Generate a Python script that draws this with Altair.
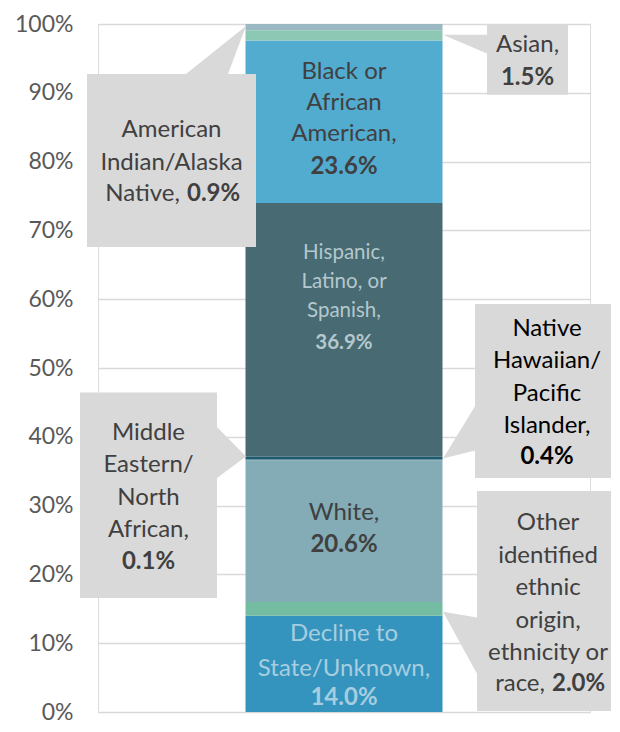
import altair as alt
import pandas as pd

# ---------------- data ----------------
categories = [
    "Decline to State/Unknown",
    "Other identified ethnic origin, ethnicity or race",
    "White",
    "Middle Eastern/North African",
    "Native Hawaiian/Pacific Islander",
    "Hispanic, Latino, or Spanish",
    "Black or African American",
    "Asian",
    "American Indian/Alaska Native",
]
values = [14.0, 2.0, 20.6, 0.1, 0.4, 36.9, 23.6, 1.5, 0.9]
colors = ["#3494bd", "#74bda3", "#83acb7", "#5f8f9c", "#1c5b72",
          "#476a73", "#52acd0", "#8dc8b4", "#9ab8c2"]
y_ticks = list(range(0, 101, 10))

FONT = "Lato"
DARK = "#404040"
BOX = "#d9d9d9"

# layout (plot area)
PW, PH = 492, 688
PAD = {"left": 90, "top": 16, "right": 21, "bottom": 12}
S = PH / 700.0


def X(px):  # reference page x -> plot x
    return px - 98


def Y(py):  # reference page y -> plot y
    return (py - 22) * S


df = pd.DataFrame({"category": categories, "value": values})
df["group"] = "All"
df["end"] = df["value"].cumsum()
df["start"] = df["end"] - df["value"]
df["mid"] = (df["start"] + df["end"]) / 2
df["pct"] = df["value"].map(lambda v: f"{v:.1f}%")

base = alt.Chart(df)
one = alt.Chart(pd.DataFrame({"k": [0]}))


def sel(cat):
    return base.transform_filter(alt.datum.category == cat)


bars = base.mark_bar(size=197).encode(
    x=alt.X("group:N", axis=None, title=None),
    y=alt.Y(
        "start:Q",
        scale=alt.Scale(domain=[0, 100], nice=False),
        axis=alt.Axis(
            values=y_ticks, labelExpr="datum.value + '%'", domain=False,
            ticks=False, grid=True, gridColor="#d9d9d9", gridWidth=1.5,
            labelFontSize=23, labelColor="#595959", labelFont=FONT,
            labelPadding=25,
        ),
        title=None,
    ),
    y2="end:Q",
    color=alt.Color("category:N", scale=alt.Scale(domain=categories, range=colors),
                    legend=None),
)


def bar_text(cat, text, dy, bold=False, color=DARK, size=24, lh=32):
    mk = dict(font=FONT, fontSize=size, lineHeight=lh * S, color=color,
              align="center", baseline="middle", dy=dy * S)
    if bold:
        mk["fontWeight"] = "bold"
    enc = dict(x=alt.X("group:N", axis=None, title=None),
               y=alt.Y("mid:Q", title=None))
    if text is None:
        enc["text"] = alt.Text("pct:N")
    else:
        mk["text"] = text
    return sel(cat).mark_text(**mk).encode(**enc)


def call_text(cat, text, px, py, bold=False, color=DARK, size=24, lh=33, align="center"):
    mk = dict(font=FONT, fontSize=size, lineHeight=lh * S, color=color,
              align=align, baseline="middle")
    if bold:
        mk["fontWeight"] = "bold"
    enc = dict(x=alt.value(X(px)), y=alt.value(Y(py)))
    if text is None:
        enc["text"] = alt.Text("pct:N")
    else:
        mk["text"] = text
    return sel(cat).mark_text(**mk).encode(**enc)


def callout(points):
    path = "M" + "L".join(f"{X(x):.1f},{Y(y):.1f}" for x, y in points) + "Z"
    return one.mark_point(shape=path, size=4, filled=True, color=BOX,
                          opacity=1, strokeWidth=0).encode(
        x=alt.value(0), y=alt.value(0))


LIGHT_HISP = "#b4c8cd"
LIGHT_DECL = "#a7cde0"

labels = [
    bar_text("Black or African American", ["Black or", "African", "American,"], -51),
    bar_text("Black or African American", None, 46, bold=True),
    bar_text("Hispanic, Latino, or Spanish", ["Hispanic,", "Latino, or", "Spanish,"], -78,
             color=LIGHT_HISP, size=20.5, lh=29.5),
    bar_text("Hispanic, Latino, or Spanish", None, 13, bold=True, color=LIGHT_HISP, size=20.5),
    bar_text("White", ["White,"], -18),
    bar_text("White", None, 14, bold=True),
    bar_text("Decline to State/Unknown", ["Decline to", "State/Unknown,"], -30,
             color=LIGHT_DECL, lh=35),
    bar_text("Decline to State/Unknown", None, 35, bold=True, color=LIGHT_DECL),
]

callouts = [
    # American Indian/Alaska Native
    callout([(87, 73), (186, 73), (246, 24), (228, 73), (256, 73), (256, 249), (87, 249)]),
    # Asian
    callout([(487, 22), (568, 22), (568, 94), (487, 94), (487, 52), (443, 33), (487, 33)]),
    # Native Hawaiian/Pacific Islander
    callout([(475, 307), (619, 307), (619, 484), (475, 484), (475, 456), (443, 464), (475, 411)]),
    # Middle Eastern/North African
    callout([(80, 397), (217, 397), (217, 432), (246, 462), (217, 484), (217, 606), (80, 606)]),
    # Other identified ethnic origin, ethnicity or race
    callout([(477, 497), (619, 497), (619, 721), (477, 721), (477, 683), (443, 620), (477, 626)]),
]

call_texts = [
    call_text("American Indian/Alaska Native", ["American", "Indian/Alaska"], 171.5, 130),
    call_text("American Indian/Alaska Native", "Native,", 180, 195, align="right"),
    call_text("American Indian/Alaska Native", None, 187, 195, bold=True, align="left"),
    call_text("Asian", "Asian,", 527.5, 43),
    call_text("Asian", None, 527.5, 77, bold=True),
    call_text("Native Hawaiian/Pacific Islander",
              ["Native", "Hawaiian/", "Pacific", "Islander,"], 547, 332, color="#000000"),
    call_text("Native Hawaiian/Pacific Islander", None, 547, 463, bold=True, color="#000000"),
    call_text("Middle Eastern/North African", ["Middle", "Eastern/", "North", "African,"],
              148.5, 438),
    call_text("Middle Eastern/North African", None, 148.5, 569, bold=True),
    call_text("Other identified ethnic origin, ethnicity or race",
              ["Other", "identified", "ethnic", "origin,", "ethnicity or"], 548, 530),
    call_text("Other identified ethnic origin, ethnicity or race", "race,", 545, 694,
              align="right"),
    call_text("Other identified ethnic origin, ethnicity or race", None, 552, 694,
              bold=True, align="left"),
]

chart = alt.layer(bars, *labels, *callouts, *call_texts).properties(
    width=PW,
    height=PH,
    autosize="none",
    padding=PAD,
).configure_view(strokeWidth=0).configure(font=FONT)

chart.save("out.html", embed_options={"renderer": "svg", "actions": False})
